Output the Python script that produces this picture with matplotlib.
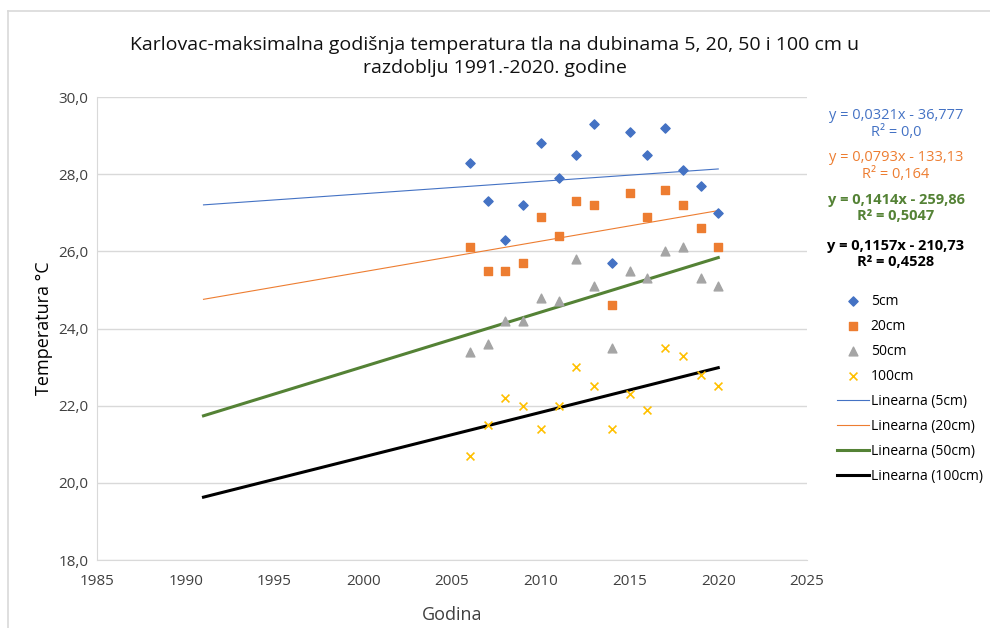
import matplotlib
matplotlib.use("Agg")
import matplotlib.pyplot as plt
import matplotlib.ticker as mticker
from matplotlib.lines import Line2D
import numpy as np

plt.rcParams["font.family"] = ["Open Sans", "DejaVu Sans"]

years = [2006, 2007, 2008, 2009, 2010, 2011, 2012, 2013, 2014, 2015, 2016, 2017, 2018, 2019, 2020]
t5 = [28.3, 27.3, 26.3, 27.2, 28.8, 27.9, 28.5, 29.3, 25.7, 29.1, 28.5, 29.2, 28.1, 27.7, 27.0]
t20 = [26.1, 25.5, 25.5, 25.7, 26.9, 26.4, 27.3, 27.2, 24.6, 27.5, 26.9, 27.6, 27.2, 26.6, 26.1]
t50 = [23.4, 23.6, 24.2, 24.2, 24.8, 24.7, 25.8, 25.1, 23.5, 25.5, 25.3, 26.0, 26.1, 25.3, 25.1]
t100 = [20.7, 21.5, 22.2, 22.0, 21.4, 22.0, 23.0, 22.5, 21.4, 22.3, 21.9, 23.5, 23.3, 22.8, 22.5]

# trend lines (Excel equations), drawn over 1991-2020
trend_x = [1991, 2020]
slopes = [0.0321, 0.0793, 0.1414, 0.1157]
intercepts = [-36.777 + 0.07, -133.13, -259.86 + 0.07, -210.73]
equations = ["y = 0,0321x - 36,777\nR² = 0,0",
             "y = 0,0793x - 133,13\nR² = 0,164",
             "y = 0,1414x - 259,86\nR² = 0,5047",
             "y = 0,1157x - 210,73\nR² = 0,4528"]

fig = plt.figure(figsize=(9.9, 6.28), dpi=100)
ax = fig.add_axes([97 / 990, 68 / 628, 710 / 990, 463 / 628])

ax.scatter(years, t5, marker="D", s=22, color="#4472C4", label="5cm", zorder=3)
ax.scatter(years, t20, marker="s", s=40, color="#ED7D31", label="20cm", zorder=3)
ax.scatter(years, t50, marker="^", s=40, color="#A5A5A5", label="50cm", zorder=3)
ax.scatter(years, t100, marker="x", s=32, color="#FFC000", linewidths=1.2, label="100cm", zorder=3)

trend_styles = [("#4472C4", 0.8, "Linearna (5cm)"),
                ("#ED7D31", 0.8, "Linearna (20cm)"),
                ("#548235", 2.2, "Linearna (50cm)"),
                ("black", 2.2, "Linearna (100cm)")]
tx = np.array(trend_x)
for k, b, (c, lw, lab) in zip(slopes, intercepts, trend_styles):
    ax.plot(tx, k * tx + b, color=c, lw=lw, label=lab, zorder=2)

ax.set_xlim(1985, 2025)
ax.set_ylim(18, 30)
ax.set_xticks(range(1985, 2026, 5))
ax.set_yticks(np.arange(18, 30.1, 2))
ax.yaxis.set_major_formatter(mticker.FuncFormatter(lambda v, _: f"{v:.1f}".replace(".", ",")))
ax.tick_params(length=0, labelsize=11, colors="#404040")
ax.tick_params(axis="x", pad=10)
ax.tick_params(axis="y", pad=6)
ax.grid(axis="y", color="#D9D9D9", lw=1)
ax.set_axisbelow(True)
for s in ["top", "right"]:
    ax.spines[s].set_visible(False)
for s in ["left", "bottom"]:
    ax.spines[s].set_color("#D9D9D9")

ax.set_xlabel("Godina", fontsize=13, color="#404040", labelpad=12)
ax.set_ylabel("Temperatura °C", fontsize=13, color="#000000", labelpad=4)
fig.suptitle("Karlovac-maksimalna godišnja temperatura tla na dubinama 5, 20, 50 i 100 cm u\n"
             "razdoblju 1991.-2020. godine", y=0.942, fontsize=14, color="#111111", linespacing=1.3)

eq_colors = ["#4472C4", "#ED7D31", "#548235", "black"]
eq_weights = ["normal", "normal", "bold", "bold"]
eq_y = [124, 166, 208, 254]
for txt, c, w, yy in zip(equations, eq_colors, eq_weights, eq_y):
    fig.text(896 / 990, 1 - yy / 628, txt, ha="center", va="center", color=c,
             fontweight=w, fontsize=10.5, linespacing=1.25)

ax.legend(loc="upper left", bbox_to_anchor=(1.035, 0.587), frameon=False, fontsize=10,
          handlelength=2.3, labelspacing=0.72, handletextpad=0.1, borderaxespad=0,
          scatterpoints=1)

fig.add_artist(Line2D([8 / 990, 8 / 990], [0, 1 - 11 / 628], color="#D9D9D9", lw=1.2))
fig.add_artist(Line2D([8 / 990, 1], [1 - 11 / 628, 1 - 11 / 628], color="#D9D9D9", lw=1.2))

fig.savefig("out.png", dpi=100)
